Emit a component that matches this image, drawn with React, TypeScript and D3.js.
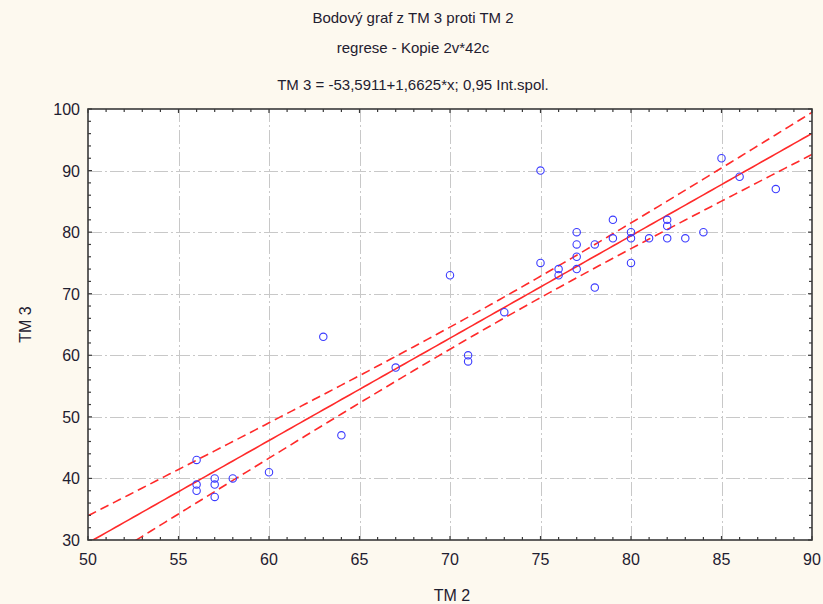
import React, { useRef, useEffect } from "react";
import * as d3 from "d3";

// TM 2 (x) and TM 3 (y) values
const tm2 = [56, 56, 56, 57, 57, 57, 58, 60, 63, 64, 67, 70, 71, 71, 73, 75, 75,
  76, 76, 77, 77, 77, 77, 78, 78, 79, 79, 80, 80, 80, 81, 82, 82, 82, 83, 84, 85, 86, 88];
const tm3 = [43, 39, 38, 40, 39, 37, 40, 41, 63, 47, 58, 73, 60, 59, 67, 90, 75,
  74, 73, 80, 78, 76, 74, 78, 71, 82, 79, 80, 79, 75, 79, 82, 81, 79, 79, 80, 92, 89, 87];

// regression from the title: TM 3 = -53,5911 + 1,6625*x
const coef = [-53.5911, 1.6625];

const xTicks = [50, 55, 60, 65, 70, 75, 80, 85, 90];
const yTicks = [30, 40, 50, 60, 70, 80, 90, 100];

const titles = [
  "Bodový graf z TM 3 proti TM 2",
  "regrese - Kopie 2v*42c",
  "TM 3 = -53,5911+1,6625*x; 0,95 Int.spol.",
];

function App() {
  const svgRef = useRef(null);
  const width = 823;
  const height = 604;

  useEffect(() => {
    const svg = d3.select(svgRef.current);
    svg.selectAll("*").remove();

    const left = 88, right = 812, top = 109, bottom = 540;
    const font = "'Liberation Sans', Arial, sans-serif";
    const ink = "#1f2030";

    svg.append("rect").attr("width", width).attr("height", height).attr("fill", "#fdf9ef");
    svg.append("rect")
      .attr("x", left).attr("y", top)
      .attr("width", right - left).attr("height", bottom - top)
      .attr("fill", "#ffffff");

    const x = d3.scaleLinear().domain([50, 90]).range([left, right]);
    const y = d3.scaleLinear().domain([30, 100]).range([bottom, top]);

    // grid, dash-dot style
    const grid = svg.append("g")
      .attr("stroke", "#c8c8c8").attr("stroke-width", 1)
      .attr("stroke-dasharray", "14,3,2,3");
    xTicks.slice(1, -1).forEach((t) => {
      grid.append("line")
        .attr("x1", Math.round(x(t)) + 0.5).attr("x2", Math.round(x(t)) + 0.5)
        .attr("y1", bottom).attr("y2", top);
    });
    yTicks.slice(1, -1).forEach((t) => {
      grid.append("line")
        .attr("y1", Math.round(y(t)) + 0.5).attr("y2", Math.round(y(t)) + 0.5)
        .attr("x1", left).attr("x2", right);
    });

    // 0,95 confidence band from residuals about the given line
    const n = tm2.length;
    const mx = d3.mean(tm2);
    const sxx = d3.sum(tm2, (v) => (v - mx) * (v - mx));
    const sse = d3.sum(tm2, (v, i) => Math.pow(tm3[i] - (coef[0] + coef[1] * v), 2));
    const s = Math.sqrt(sse / (n - 2));
    const tq = 2.02;
    const xs = d3.range(50, 90.01, 0.25);
    const fit = (v) => coef[0] + coef[1] * v;
    const half = (v) => tq * s * Math.sqrt(1 / n + ((v - mx) * (v - mx)) / sxx);

    svg.append("clipPath").attr("id", "plotclip")
      .append("rect").attr("x", left).attr("y", top)
      .attr("width", right - left).attr("height", bottom - top);

    const curves = svg.append("g").attr("clip-path", "url(#plotclip)");
    const line = d3.line().x((d) => x(d[0])).y((d) => y(d[1]));

    curves.append("path")
      .datum(xs.map((v) => [v, fit(v)]))
      .attr("fill", "none").attr("stroke", "#ff2a2a").attr("stroke-width", 1.6)
      .attr("d", line);
    [1, -1].forEach((sg) => {
      curves.append("path")
        .datum(xs.map((v) => [v, fit(v) + sg * half(v)]))
        .attr("fill", "none").attr("stroke", "#ff2a2a").attr("stroke-width", 1.6)
        .attr("stroke-dasharray", "9,5")
        .attr("d", line);
    });

    // points
    svg.append("g")
      .selectAll("circle")
      .data(tm2.map((v, i) => [v, tm3[i]]))
      .join("circle")
      .attr("cx", (d) => x(d[0]))
      .attr("cy", (d) => y(d[1]))
      .attr("r", 3.7)
      .attr("fill", "none")
      .attr("stroke", "#3b3bff")
      .attr("stroke-width", 1.1);

    // frame and inward ticks
    svg.append("rect")
      .attr("x", left).attr("y", top)
      .attr("width", right - left).attr("height", bottom - top)
      .attr("fill", "none").attr("stroke", "#3a3a3a").attr("stroke-width", 1.6);

    const ticks = svg.append("g").attr("stroke", "#3a3a3a").attr("stroke-width", 1.2);
    d3.range(50, 90.01, 1).forEach((t) => {
      const len = t % 5 === 0 ? 4 : 3;
      ticks.append("line").attr("x1", x(t)).attr("x2", x(t)).attr("y1", bottom).attr("y2", bottom - len);
      ticks.append("line").attr("x1", x(t)).attr("x2", x(t)).attr("y1", top).attr("y2", top + len);
    });
    d3.range(30, 100.01, 2).forEach((t) => {
      const len = t % 10 === 0 ? 4 : 3;
      ticks.append("line").attr("y1", y(t)).attr("y2", y(t)).attr("x1", left).attr("x2", left + len);
      ticks.append("line").attr("y1", y(t)).attr("y2", y(t)).attr("x1", right).attr("x2", right - len);
    });

    // tick labels
    svg.append("g").selectAll("text").data(xTicks).join("text")
      .attr("x", (d) => x(d)).attr("y", 565)
      .attr("text-anchor", "middle")
      .attr("font-family", font).attr("font-size", 16).attr("fill", ink)
      .text((d) => d);
    svg.append("g").selectAll("text").data(yTicks).join("text")
      .attr("x", 80).attr("y", (d) => y(d) + 6)
      .attr("text-anchor", "end")
      .attr("font-family", font).attr("font-size", 16).attr("fill", ink)
      .text((d) => d);

    // axis titles
    svg.append("text")
      .attr("x", (left + right) / 2 + 2).attr("y", 601)
      .attr("text-anchor", "middle")
      .attr("font-family", font).attr("font-size", 16).attr("fill", ink)
      .text("TM 2");
    svg.append("text")
      .attr("transform", `translate(31,${(top + bottom) / 2}) rotate(-90)`)
      .attr("text-anchor", "middle")
      .attr("font-family", font).attr("font-size", 16).attr("fill", ink)
      .text("TM 3");

    // titles
    svg.append("g").selectAll("text").data(titles).join("text")
      .attr("x", 413).attr("y", (d, i) => [23, 53, 90][i])
      .attr("text-anchor", "middle")
      .attr("font-family", font).attr("font-size", 15).attr("fill", ink)
      .text((d) => d);
  }, []);

  return (
    <svg ref={svgRef} width={width} height={height}
      style={{ position: "absolute", left: 0, top: 0, display: "block" }}></svg>
  );
}

export default App;
